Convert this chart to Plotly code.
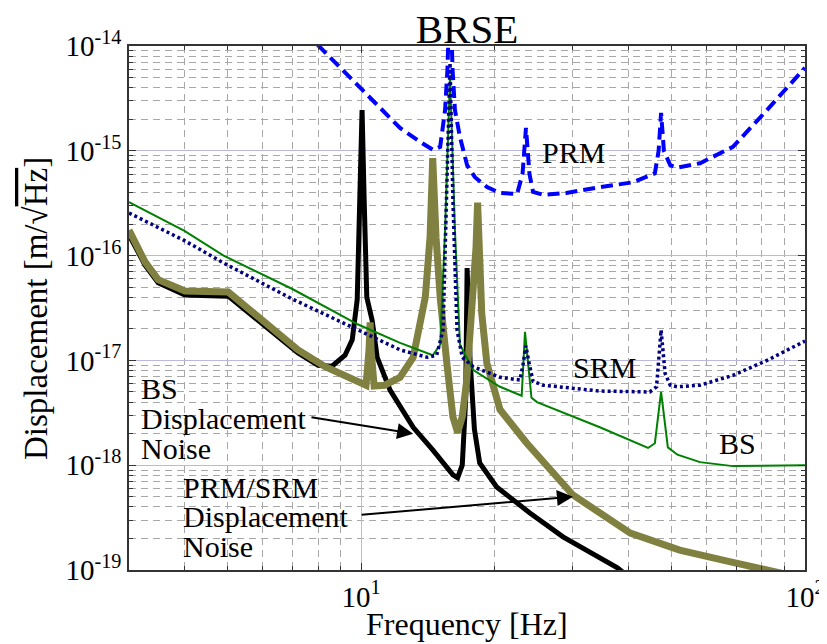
import math
import plotly.graph_objects as go

# ---------------- data ----------------
prm_f = [7.0, 8.04, 8.97, 9.95, 11.03, 12.24, 13.57, 14.53, 15.07, 15.46, 15.65, 15.86, 16.07, 16.27, 16.70,
         17.33, 18.05, 19.22, 20.55, 22.46, 23.1, 23.52, 23.95, 24.4, 25.7, 29.0, 34.5, 40.9, 45.9, 46.8,
         47.4, 48.1, 49.7, 51.6, 58.0, 68.8, 82.1, 100]
prm_v = [1.8e-14, 1.0e-14, 6.3e-15, 3.98e-15, 2.63e-15, 1.65e-15, 1.22e-15, 1.02e-15, 1.09e-15, 2.45e-15,
         6e-15, 4e-14, 6e-15, 2.45e-15, 1.35e-15, 7.3e-16, 5.6e-16, 4.5e-16, 3.96e-16, 3.87e-16,
         6.0e-16, 1.65e-15, 6.0e-16, 4.06e-16, 3.8e-16, 3.96e-16, 4.5e-16, 5.0e-16, 6.1e-16, 1.0e-15,
         2.3e-15, 1.0e-15, 7.3e-16, 6.9e-16, 7.6e-16, 1.09e-15, 2.45e-15, 6.2e-15]

srm_f = [3.0, 4.0, 4.9, 7.0, 9.85, 12.24, 14.1, 14.8, 15.3, 15.6, 15.86, 16.1, 16.45, 16.9, 17.9, 20.55,
         22.8, 23.2, 23.5, 23.9, 24.4, 25.7, 34.5, 44.7, 46.3, 47.4, 48.4, 49.7, 51.6, 58.0, 68.8, 82.1, 100]
srm_v = [2.55e-16, 1.39e-16, 8.5e-17, 3.85e-17, 1.95e-17, 1.26e-17, 1.07e-17, 1.12e-17, 1.95e-17, 3.4e-16,
         6.9e-15, 3.4e-16, 1.95e-17, 1.07e-17, 8.7e-18, 6.9e-18, 6.5e-18, 9.5e-18, 1.38e-17, 9.5e-18,
         6.3e-18, 5.8e-18, 5.1e-18, 5.0e-18, 5.6e-18, 1.95e-17, 7.5e-18, 5.8e-18, 5.6e-18, 5.8e-18,
         7.2e-18, 1.0e-17, 1.53e-17]

bs_f = [3.0, 4.0, 4.9, 7.0, 9.85, 12.24, 14.5, 15.07, 15.46, 15.86, 16.27, 16.7, 17.9, 20.55, 23.0, 23.4,
        24.2, 24.9, 34.5, 44.3, 45.9, 47.4, 49.1, 51.6, 58.0, 68.8, 100]
bs_v = [3.24e-16, 1.72e-16, 1.0e-16, 4.8e-17, 2.2e-17, 1.47e-17, 1.12e-17, 1.41e-17, 1.75e-16, 5.3e-15,
        1.75e-16, 1.41e-17, 8.1e-18, 5.6e-18, 4.6e-18, 1.87e-17, 4.4e-18, 4.0e-18, 2.3e-18, 1.46e-18,
        1.62e-18, 5.0e-18, 1.48e-18, 1.26e-18, 1.07e-18, 9.8e-19, 1.0e-18]

bsdn_f = [3.0, 3.26, 3.49, 4.01, 5.02, 6.08, 7.21, 8.0, 8.6, 9.2, 9.55, 9.8, 9.95, 10.05, 10.16, 10.3,
          10.59, 10.87, 11.62, 13.1, 14.5, 16.1, 16.5, 16.9, 17.2, 17.33, 17.6, 18.0, 18.5, 20.2, 24.0,
          28.5, 37.8, 42.5]
bsdn_v = [1.58e-16, 8.1e-17, 5.5e-17, 4.2e-17, 4.1e-17, 2.09e-17, 1.18e-17, 9.0e-18, 8.8e-18, 1.12e-17,
          1.57e-17, 3.8e-17, 3.4e-16, 2.45e-15, 3.4e-16, 4.0e-17, 2.4e-17, 1.07e-17, 5.2e-18, 2.3e-18,
          1.4e-18, 8.1e-19, 7.6e-19, 1.0e-18, 4.2e-18, 7.6e-17, 1.0e-17, 2.2e-18, 1.05e-18, 6.2e-19,
          3.5e-19, 2.07e-19, 1.05e-19, 7e-20]

psdn_f = [3.0, 3.26, 3.49, 4.01, 5.02, 6.08, 7.21, 8.3, 9.85, 10.26, 10.42, 10.48, 10.53, 10.7, 11.3,
          12.24, 13.1, 13.95, 14.3, 14.5, 14.75, 15.07, 15.6, 16.1, 16.5, 16.9, 17.3, 17.9, 18.15, 18.3,
          18.5, 18.7, 19.2, 20.55, 23.6, 26.6, 30.0, 40.4, 52.2, 67.6, 83.3, 100]
psdn_v = [1.75e-16, 8.7e-17, 5.9e-17, 4.6e-17, 4.5e-17, 2.33e-17, 1.26e-17, 8.7e-18, 6.2e-18, 5.8e-18,
          1.26e-17, 2.3e-17, 1.26e-17, 5.7e-18, 5.8e-18, 6.9e-18, 1.07e-17, 4.0e-17, 1.5e-16, 8.5e-16,
          1.5e-16, 4.0e-17, 9.4e-18, 2.9e-18, 2.05e-18, 2.9e-18, 6.5e-18, 4.0e-17, 1.2e-16, 3.2e-16,
          1.0e-16, 2.8e-17, 9.4e-18, 3.4e-18, 1.63e-18, 9.3e-19, 5.2e-19, 2.25e-19, 1.55e-19, 1.2e-19,
          1.0e-19, 8.3e-20]

x_tick_vals = [10, 100]
x_tick_text = ["10<sup>1</sup>", "10<sup>2</sup>"]
y_tick_vals = [1e-19, 1e-18, 1e-17, 1e-16, 1e-15, 1e-14]
y_tick_text = ["10<sup>-19</sup>", "10<sup>-18</sup>", "10<sup>-17</sup>",
               "10<sup>-16</sup>", "10<sup>-15</sup>", "10<sup>-14</sup>"]

# ---------------- figure ----------------
FONT = "Liberation Serif, DejaVu Serif, Times New Roman, serif"
fig = go.Figure()

fig.add_trace(go.Scatter(x=bsdn_f, y=bsdn_v, mode="lines", name="BS Displacement Noise",
                         line=dict(color="#000000", width=5)))
fig.add_trace(go.Scatter(x=psdn_f, y=psdn_v, mode="lines", name="PRM/SRM Displacement Noise",
                         line=dict(color="#808040", width=7)))
fig.add_trace(go.Scatter(x=bs_f, y=bs_v, mode="lines", name="BS",
                         line=dict(color="#008000", width=2)))
fig.add_trace(go.Scatter(x=srm_f, y=srm_v, mode="lines", name="SRM",
                         line=dict(color="#000080", width=3.5, dash="3px,3px")))
fig.add_trace(go.Scatter(x=prm_f, y=prm_v, mode="lines", name="PRM",
                         line=dict(color="#0000ff", width=4, dash="12px,6px")))

minor_x = [4, 5, 6, 7, 8, 9, 20, 30, 40, 50, 60, 70, 80, 90]
minor_y = [m * 10.0 ** e for e in range(-19, -14) for m in range(2, 10)]

axis_common = dict(
    type="log", showline=True, linecolor="#333333", linewidth=1.5, mirror="allticks",
    ticks="inside", ticklen=7, tickwidth=1, tickcolor="#333333",
    showgrid=True, gridcolor="#b8b8e0", gridwidth=1, zeroline=False,
    tickfont=dict(family=FONT, size=29, color="black"),
)

fig.update_xaxes(**axis_common, range=[math.log10(3.0), 2], tickvals=x_tick_vals, ticktext=x_tick_text,
                 minor=dict(tickvals=minor_x, ticks="inside", ticklen=4, tickcolor="#333333",
                            showgrid=True, gridcolor="#a8a8a8", gridwidth=1, griddash="7px,5px"))
fig.update_yaxes(**axis_common, range=[-19, -14], tickvals=y_tick_vals, ticktext=y_tick_text,
                 minor=dict(tickvals=minor_y, ticks="inside", ticklen=4, tickcolor="#333333",
                            showgrid=True, gridcolor="#a8a8a8", gridwidth=1, griddash="7px,5px"))

def txt(s, x, y, size=30, xanchor="left", **kw):
    fig.add_annotation(text=s, x=x, y=y, xref="paper", yref="paper", showarrow=False,
                       xanchor=xanchor, yanchor="middle", borderpad=0,
                       font=dict(family=FONT, size=size, color="black"), **kw)

# curve labels
txt("PRM", 0.609, 0.796)
txt("SRM", 0.655, 0.3855)
txt("BS", 0.872, 0.2405)
txt("BS", 0.016, 0.3464)
txt("Displacement", 0.016, 0.2891)
txt("Noise", 0.016, 0.2319)
txt("PRM/SRM", 0.079, 0.1574)
txt("Displacement", 0.079, 0.1021)
txt("Noise", 0.079, 0.0448)

# axis titles
txt("Frequency [Hz]", 0.5, -0.103, size=32, xanchor="center")
txt("Displacement [m/√<span style='text-decoration:overline'>Hz</span>]", -0.1376, 0.5,
    size=33, xanchor="center", textangle=-90)

# arrows
fig.add_annotation(text="", x=math.log10(13.1), y=-17.70, ax=math.log10(7.67), ay=-17.54,
                   xref="x", yref="y", axref="x", ayref="y", showarrow=True,
                   arrowhead=2, arrowsize=1.6, arrowwidth=2, arrowcolor="black", standoff=0)
fig.add_annotation(text="", x=math.log10(30.0), y=-18.30, ax=math.log10(9.95), ay=-18.475,
                   xref="x", yref="y", axref="x", ayref="y", showarrow=True,
                   arrowhead=2, arrowsize=1.6, arrowwidth=2, arrowcolor="black", standoff=0)

# the page body has an 8px margin, so the figure is 8px smaller and margins shifted
fig.update_layout(
    width=819, height=636,
    margin=dict(l=121, r=22, t=38, b=74, autoexpand=False),
    paper_bgcolor="white", plot_bgcolor="white",
    showlegend=False,
    title=dict(text="BRSE", x=(467 - 8) / 819, xanchor="center", y=1 - (28.6 - 8) / 636, yanchor="middle",
               font=dict(family=FONT, size=41, color="black")),
)

fig.write_html("out.html")
